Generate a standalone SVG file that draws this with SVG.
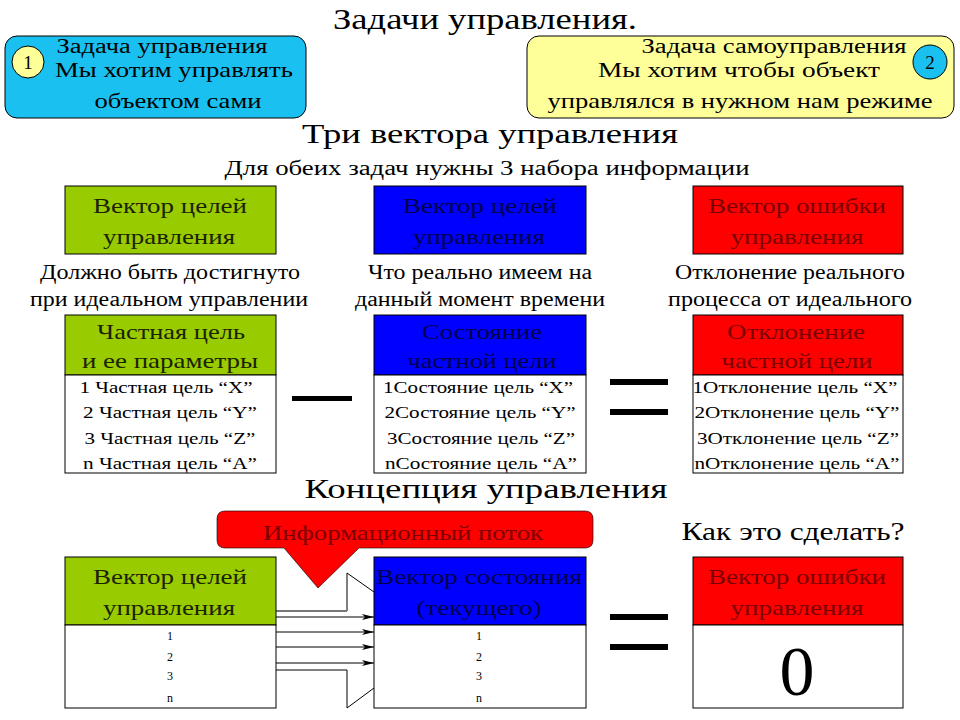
<svg xmlns="http://www.w3.org/2000/svg" width="960" height="720" viewBox="0 0 960 720">
<style>
text{font-family:"Liberation Serif","Times New Roman",serif;fill:#000;text-anchor:middle}
.g{fill:#99CC00;stroke:#000;stroke-width:1}
.b{fill:#0000FF;stroke:#000;stroke-width:1}
.r{fill:#FF0000;stroke:#000;stroke-width:1}
.w{fill:#fff;stroke:#000;stroke-width:1}
.gt{fill:#1a2200}
.bt{fill:#00004d}
.rt{fill:#7a0000}
.bar{fill:#000}
.ln{stroke:#000;stroke-width:1;fill:none}
</style>
<defs>
<marker id="ah" viewBox="0 0 12 6" refX="12" refY="3" markerWidth="12" markerHeight="6" markerUnits="userSpaceOnUse" orient="auto">
<path d="M0,0 L12,3 L0,6 L3,3 Z" fill="#000"/>
</marker>
</defs>
<rect width="960" height="720" fill="#fff"/>

<text x="485" y="29" font-size="30" textLength="304" lengthAdjust="spacingAndGlyphs">Задачи управления.</text>

<g id="task1">
<rect x="5" y="36" width="301" height="82" rx="12" fill="#19C0F0" stroke="#000" stroke-width="1"/>
<circle cx="28" cy="62" r="16" fill="#FFFF99" stroke="#000" stroke-width="1"/>
<text x="28" y="69" font-size="19">1</text>
<text x="162" y="53" font-size="20" textLength="211" lengthAdjust="spacingAndGlyphs">Задача управления</text>
<text x="174" y="77" font-size="21" textLength="238" lengthAdjust="spacingAndGlyphs">Мы хотим управлять</text>
<text x="178" y="108" font-size="21" textLength="167" lengthAdjust="spacingAndGlyphs">объектом сами</text>
</g>

<g id="task2">
<rect x="527" y="36" width="427" height="82" rx="12" fill="#FFFF99" stroke="#000" stroke-width="1"/>
<circle cx="930" cy="62" r="17" fill="#19C0F0" stroke="#000" stroke-width="1"/>
<text x="930" y="69" font-size="19">2</text>
<text x="774" y="53" font-size="20" textLength="265" lengthAdjust="spacingAndGlyphs">Задача самоуправления</text>
<text x="739" y="77" font-size="21" textLength="282" lengthAdjust="spacingAndGlyphs">Мы хотим чтобы  объект</text>
<text x="740" y="108" font-size="21" textLength="385" lengthAdjust="spacingAndGlyphs">управлялся в нужном нам режиме</text>
</g>

<text x="490" y="143" font-size="27" textLength="376" lengthAdjust="spacingAndGlyphs">Три вектора управления</text>
<text x="487" y="175" font-size="20" textLength="525" lengthAdjust="spacingAndGlyphs">Для обеих задач нужны 3 набора информации</text>

<g id="goal-vector">
<rect class="g" x="65" y="186" width="211" height="68"/>
<text class="gt" x="170" y="213" font-size="21" textLength="154" lengthAdjust="spacingAndGlyphs">Вектор целей</text>
<text class="gt" x="169" y="244" font-size="21" textLength="132" lengthAdjust="spacingAndGlyphs">управления</text>
</g>
<g id="state-vector">
<rect class="b" x="374" y="186" width="212" height="68"/>
<text class="bt" x="480" y="213" font-size="21" textLength="154" lengthAdjust="spacingAndGlyphs">Вектор целей</text>
<text class="bt" x="479" y="244" font-size="21" textLength="132" lengthAdjust="spacingAndGlyphs">управления</text>
</g>
<g id="error-vector">
<rect class="r" x="693" y="186" width="210" height="68"/>
<text class="rt" x="797" y="213" font-size="21" textLength="178" lengthAdjust="spacingAndGlyphs">Вектор ошибки</text>
<text class="rt" x="797" y="244" font-size="21" textLength="133" lengthAdjust="spacingAndGlyphs">управления</text>
</g>

<text x="170" y="279" font-size="20" textLength="260" lengthAdjust="spacingAndGlyphs">Должно быть достигнуто</text>
<text x="169" y="306" font-size="20" textLength="278" lengthAdjust="spacingAndGlyphs">при идеальном управлении</text>
<text x="480" y="279" font-size="20" textLength="224" lengthAdjust="spacingAndGlyphs">Что реально имеем на</text>
<text x="480" y="306" font-size="20" textLength="250" lengthAdjust="spacingAndGlyphs">данный момент времени</text>
<text x="790" y="279" font-size="20" textLength="230" lengthAdjust="spacingAndGlyphs">Отклонение реального</text>
<text x="790" y="306" font-size="20" textLength="244" lengthAdjust="spacingAndGlyphs">процесса от идеального</text>

<g id="partial-goal">
<rect class="g" x="65" y="315" width="211" height="60"/>
<rect class="w" x="65" y="375" width="211" height="98"/>
<text class="gt" x="171" y="339" font-size="22" textLength="148" lengthAdjust="spacingAndGlyphs">Частная цель</text>
<text class="gt" x="170" y="368" font-size="22" textLength="176" lengthAdjust="spacingAndGlyphs">и ее параметры</text>
<text x="166" y="393" font-size="17" textLength="173" lengthAdjust="spacingAndGlyphs">1 Частная  цель  “X”</text>
<text x="170" y="418" font-size="17" textLength="174" lengthAdjust="spacingAndGlyphs">2 Частная  цель  “Y”</text>
<text x="170" y="444" font-size="17" textLength="171" lengthAdjust="spacingAndGlyphs">3 Частная  цель  “Z”</text>
<text x="170" y="469" font-size="17" textLength="174" lengthAdjust="spacingAndGlyphs">n Частная  цель  “A”</text>
</g>
<g id="partial-state">
<rect class="b" x="374" y="315" width="212" height="60"/>
<rect class="w" x="374" y="375" width="212" height="98"/>
<text class="bt" x="482" y="339" font-size="22" textLength="120" lengthAdjust="spacingAndGlyphs">Состояние</text>
<text class="bt" x="482" y="368" font-size="22" textLength="149" lengthAdjust="spacingAndGlyphs">частной цели</text>
<text x="478" y="393" font-size="17" textLength="190" lengthAdjust="spacingAndGlyphs">1Состояние цель “X”</text>
<text x="480" y="418" font-size="17" textLength="191" lengthAdjust="spacingAndGlyphs">2Состояние цель “Y”</text>
<text x="481" y="444" font-size="17" textLength="188" lengthAdjust="spacingAndGlyphs">3Состояние цель “Z”</text>
<text x="481" y="469" font-size="17" textLength="192" lengthAdjust="spacingAndGlyphs">nСостояние цель “A”</text>
</g>
<g id="partial-error">
<rect class="r" x="693" y="315" width="210" height="60"/>
<rect class="w" x="693" y="375" width="210" height="98"/>
<text class="rt" x="796" y="339" font-size="22" textLength="138" lengthAdjust="spacingAndGlyphs">Отклонение</text>
<text class="rt" x="797" y="368" font-size="22" textLength="151" lengthAdjust="spacingAndGlyphs">частной цели</text>
<text x="795" y="393" font-size="17" textLength="205" lengthAdjust="spacingAndGlyphs">1Отклонение  цель  “X”</text>
<text x="797" y="418" font-size="17" textLength="205" lengthAdjust="spacingAndGlyphs">2Отклонение  цель  “Y”</text>
<text x="798" y="444" font-size="17" textLength="202" lengthAdjust="spacingAndGlyphs">3Отклонение  цель  “Z”</text>
<text x="797" y="469" font-size="17" textLength="205" lengthAdjust="spacingAndGlyphs">nОтклонение  цель  “A”</text>
</g>

<g id="operators1">
<rect class="bar" x="292" y="396" width="60" height="5"/>
<rect class="bar" x="610" y="379" width="58" height="6"/>
<rect class="bar" x="610" y="409" width="58" height="6"/>
</g>

<text x="486" y="498" font-size="27" textLength="363" lengthAdjust="spacingAndGlyphs">Концепция управления</text>
<text x="793" y="540" font-size="25" textLength="223" lengthAdjust="spacingAndGlyphs">Как это сделать?</text>

<g id="info-flow">
<path d="M225,511 H585 Q593,511 593,519 V540 Q593,548 585,548 H359 L318,588 L284,548 H225 Q217,548 217,540 V519 Q217,511 225,511 Z" fill="#FF0000" stroke="#000" stroke-width="0.6"/>
<text class="rt" x="403" y="540" font-size="21" textLength="280" lengthAdjust="spacingAndGlyphs">Информационный поток</text>
</g>

<g id="connectors">
<path d="M276,611 H347 V573 L374,592" class="ln"/>
<path d="M276,611 H347" stroke="#777" stroke-width="2" fill="none"/>
<path d="M276,670 H347 V708 L374,688" class="ln"/>
<line x1="276" y1="617" x2="374" y2="617" class="ln" marker-end="url(#ah)"/>
<line x1="276" y1="632" x2="374" y2="632" class="ln" marker-end="url(#ah)"/>
<line x1="276" y1="647" x2="374" y2="647" class="ln" marker-end="url(#ah)"/>
<line x1="276" y1="663" x2="374" y2="663" class="ln" marker-end="url(#ah)"/>
</g>

<g id="goal-vector-2">
<rect class="g" x="65" y="557" width="211" height="68"/>
<rect class="w" x="65" y="625" width="211" height="83"/>
<text class="gt" x="170" y="584" font-size="21" textLength="154" lengthAdjust="spacingAndGlyphs">Вектор целей</text>
<text class="gt" x="169" y="615" font-size="21" textLength="132" lengthAdjust="spacingAndGlyphs">управления</text>
<text x="170" y="640" font-size="12">1</text>
<text x="170" y="661" font-size="12">2</text>
<text x="170" y="680" font-size="12">3</text>
<text x="170" y="702" font-size="12">n</text>
</g>
<g id="state-vector-2">
<rect class="b" x="374" y="557" width="212" height="68"/>
<rect class="w" x="374" y="625" width="212" height="83"/>
<text class="bt" x="479" y="584" font-size="21" textLength="206" lengthAdjust="spacingAndGlyphs">Вектор состояния</text>
<text class="bt" x="479" y="615" font-size="21" textLength="125" lengthAdjust="spacingAndGlyphs">(текущего)</text>
<text x="479" y="640" font-size="12">1</text>
<text x="479" y="661" font-size="12">2</text>
<text x="479" y="680" font-size="12">3</text>
<text x="479" y="702" font-size="12">n</text>
</g>
<g id="error-vector-2">
<rect class="r" x="693" y="557" width="210" height="68"/>
<rect class="w" x="693" y="625" width="210" height="83"/>
<text class="rt" x="797" y="584" font-size="21" textLength="178" lengthAdjust="spacingAndGlyphs">Вектор ошибки</text>
<text class="rt" x="797" y="615" font-size="21" textLength="133" lengthAdjust="spacingAndGlyphs">управления</text>
<text x="797" y="695" font-size="70">0</text>
</g>

<g id="operators2">
<rect class="bar" x="610" y="614" width="58" height="6"/>
<rect class="bar" x="610" y="644" width="58" height="6"/>
</g>
</svg>
